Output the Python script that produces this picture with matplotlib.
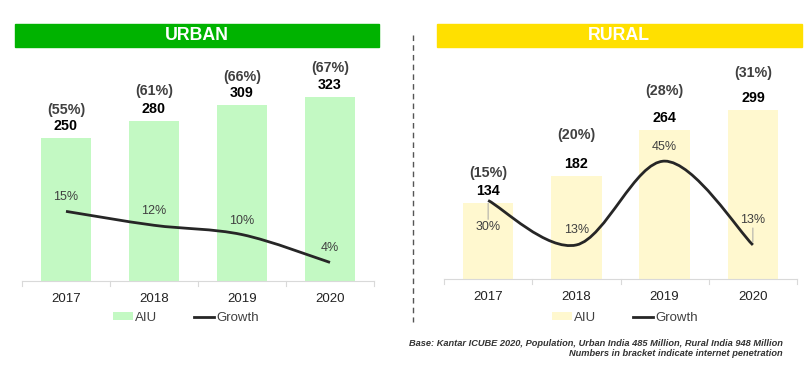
import numpy as np
import matplotlib
matplotlib.use("Agg")
import matplotlib.pyplot as plt
from matplotlib.path import Path
from matplotlib.patches import PathPatch, Patch, Rectangle
from matplotlib.lines import Line2D

plt.rcParams['font.family'] = ['Liberation Sans', 'DejaVu Sans']

years = ['2017', '2018', '2019', '2020']

urban_aiu = [250, 280, 309, 323]
urban_pen = ['(55%)', '(61%)', '(66%)', '(67%)']
urban_growth = [15, 12, 10, 4]

rural_aiu = [134, 182, 264, 299]
rural_pen = ['(15%)', '(20%)', '(28%)', '(31%)']
rural_growth = [30, 13, 45, 13]


def smooth_path(x, y):
    # excel-like smoothed line: catmull-rom segments as cubic beziers
    x = np.asarray(x, float)
    y = np.asarray(y, float)
    px = np.concatenate([[x[0]], x, [x[-1]]])
    py = np.concatenate([[y[0]], y, [y[-1]]])
    verts = [(x[0], y[0])]
    codes = [Path.MOVETO]
    for i in range(1, len(x)):
        c1 = (px[i] + (px[i + 1] - px[i - 1]) / 6, py[i] + (py[i + 1] - py[i - 1]) / 6)
        c2 = (px[i + 1] - (px[i + 2] - px[i]) / 6, py[i + 1] - (py[i + 2] - py[i]) / 6)
        verts += [c1, c2, (px[i + 1], py[i + 1])]
        codes += [Path.CURVE4] * 3
    return Path(verts, codes)


def panel(rect, aiu, pen, growth, bar_color, gmax, pen_off, g_off, leaders):
    ax = fig.add_axes(rect)
    x = np.arange(len(years))
    ax.bar(x, aiu, width=0.57, color=bar_color, zorder=1)
    ax.set_xlim(-0.5, 3.5)
    ax.set_ylim(0, 387)
    ax.set_xticks(x)
    ax.set_xticklabels(years, fontsize=9.5, color='#222222')
    ax.tick_params(axis='x', length=0, pad=9)
    ax.set_yticks([])
    for s in ['top', 'right', 'left']:
        ax.spines[s].set_visible(False)
    ax.spines['bottom'].set_color('#d9d9d9')
    for b in np.arange(-0.5, 4, 1):
        ax.plot([b, b], [0, -8], color='#d9d9d9', lw=0.8, clip_on=False)
    for i, v in enumerate(aiu):
        ax.annotate(str(v), (i, v), xytext=(0, 12), textcoords='offset pixels',
                    ha='center', va='center', fontsize=10.3, fontweight='bold', color='black')
        ax.annotate(pen[i], (i, v), xytext=(0, pen_off[i]), textcoords='offset pixels',
                    ha='center', va='center', fontsize=10.3, fontweight='bold', color='#404040')

    ax2 = ax.twinx()
    ax2.set_ylim(0, gmax)
    ax2.set_yticks([])
    for s in ax2.spines.values():
        s.set_visible(False)
    ax2.add_patch(PathPatch(smooth_path(x, growth), fill=False, lw=2,
                            edgecolor='#262626', zorder=3))
    for i, g in enumerate(growth):
        ax2.annotate(f'{g}%', (i, g), xytext=(0, g_off[i]), textcoords='offset pixels',
                     ha='center', va='center', fontsize=9, color='#404040')
        if leaders[i]:
            sign = 1 if g_off[i] > 0 else -1
            ax2.annotate('', (i, g), xytext=(0, g_off[i] - sign * 8), textcoords='offset pixels',
                         arrowprops=dict(arrowstyle='-', color='#a6a6a6', lw=0.7,
                                         shrinkA=0, shrinkB=2))
    return ax


fig = plt.figure(figsize=(8.11, 3.74), dpi=100)

panel([22 / 811, 1 - 281 / 374, 352 / 811, 221 / 374], urban_aiu, urban_pen, urban_growth,
      '#c3f9c3', 47.6, [28, 30, 28, 29], [14, 14, 14, 14], [False] * 4)
panel([444 / 811, 1 - 279 / 374, 353 / 811, 219 / 374], rural_aiu, rural_pen, rural_growth,
      '#fff8cf', 83.6, [30, 41, 39, 37], [-27, 15, 14, 25], [True, False, False, True])

# header bars
fig.patches.append(Rectangle((15 / 811, 1 - 47 / 374), 364 / 811, 23 / 374,
                             transform=fig.transFigure, color='#00b300', zorder=0))
fig.patches.append(Rectangle((437 / 811, 1 - 47 / 374), 365 / 811, 23 / 374,
                             transform=fig.transFigure, color='#ffe000', zorder=0))
fig.text(197 / 811, 1 - 36 / 374, 'URBAN', ha='center', va='center', color='white',
         fontsize=12.8, fontweight='bold')
fig.text(619 / 811, 1 - 36 / 374, 'RURAL', ha='center', va='center', color='white',
         fontsize=12.8, fontweight='bold')

# divider
fig.add_artist(Line2D([413 / 811, 413 / 811], [1 - 35 / 374, 1 - 322 / 374],
                      transform=fig.transFigure, color='#555555', lw=1, ls=(0, (4, 3))))

# legends
for cx, bc in [(186, '#c3f9c3'), (625, '#fff8cf')]:
    handles = [Patch(facecolor=bc, edgecolor='none'),
               Line2D([], [], color='#262626', lw=2)]
    fig.legend(handles, ['AIU', 'Growth'], loc='center', bbox_to_anchor=(cx / 811, 1 - 318 / 374),
               ncol=2, frameon=False, fontsize=9.5, handlelength=1.5, handleheight=0.55,
               handletextpad=0.15, columnspacing=2.8, labelcolor='#404040')

fig.text(783 / 811, 1 - 343 / 374,
         'Base: Kantar ICUBE 2020, Population, Urban India 485 Million, Rural India 948 Million',
         ha='right', va='center', fontsize=6.7, fontweight='bold', style='italic', color='#333333')
fig.text(783 / 811, 1 - 354 / 374, 'Numbers in bracket indicate internet penetration',
         ha='right', va='center', fontsize=6.7, fontweight='bold', style='italic', color='#333333')

fig.savefig('out.png', dpi=100)
